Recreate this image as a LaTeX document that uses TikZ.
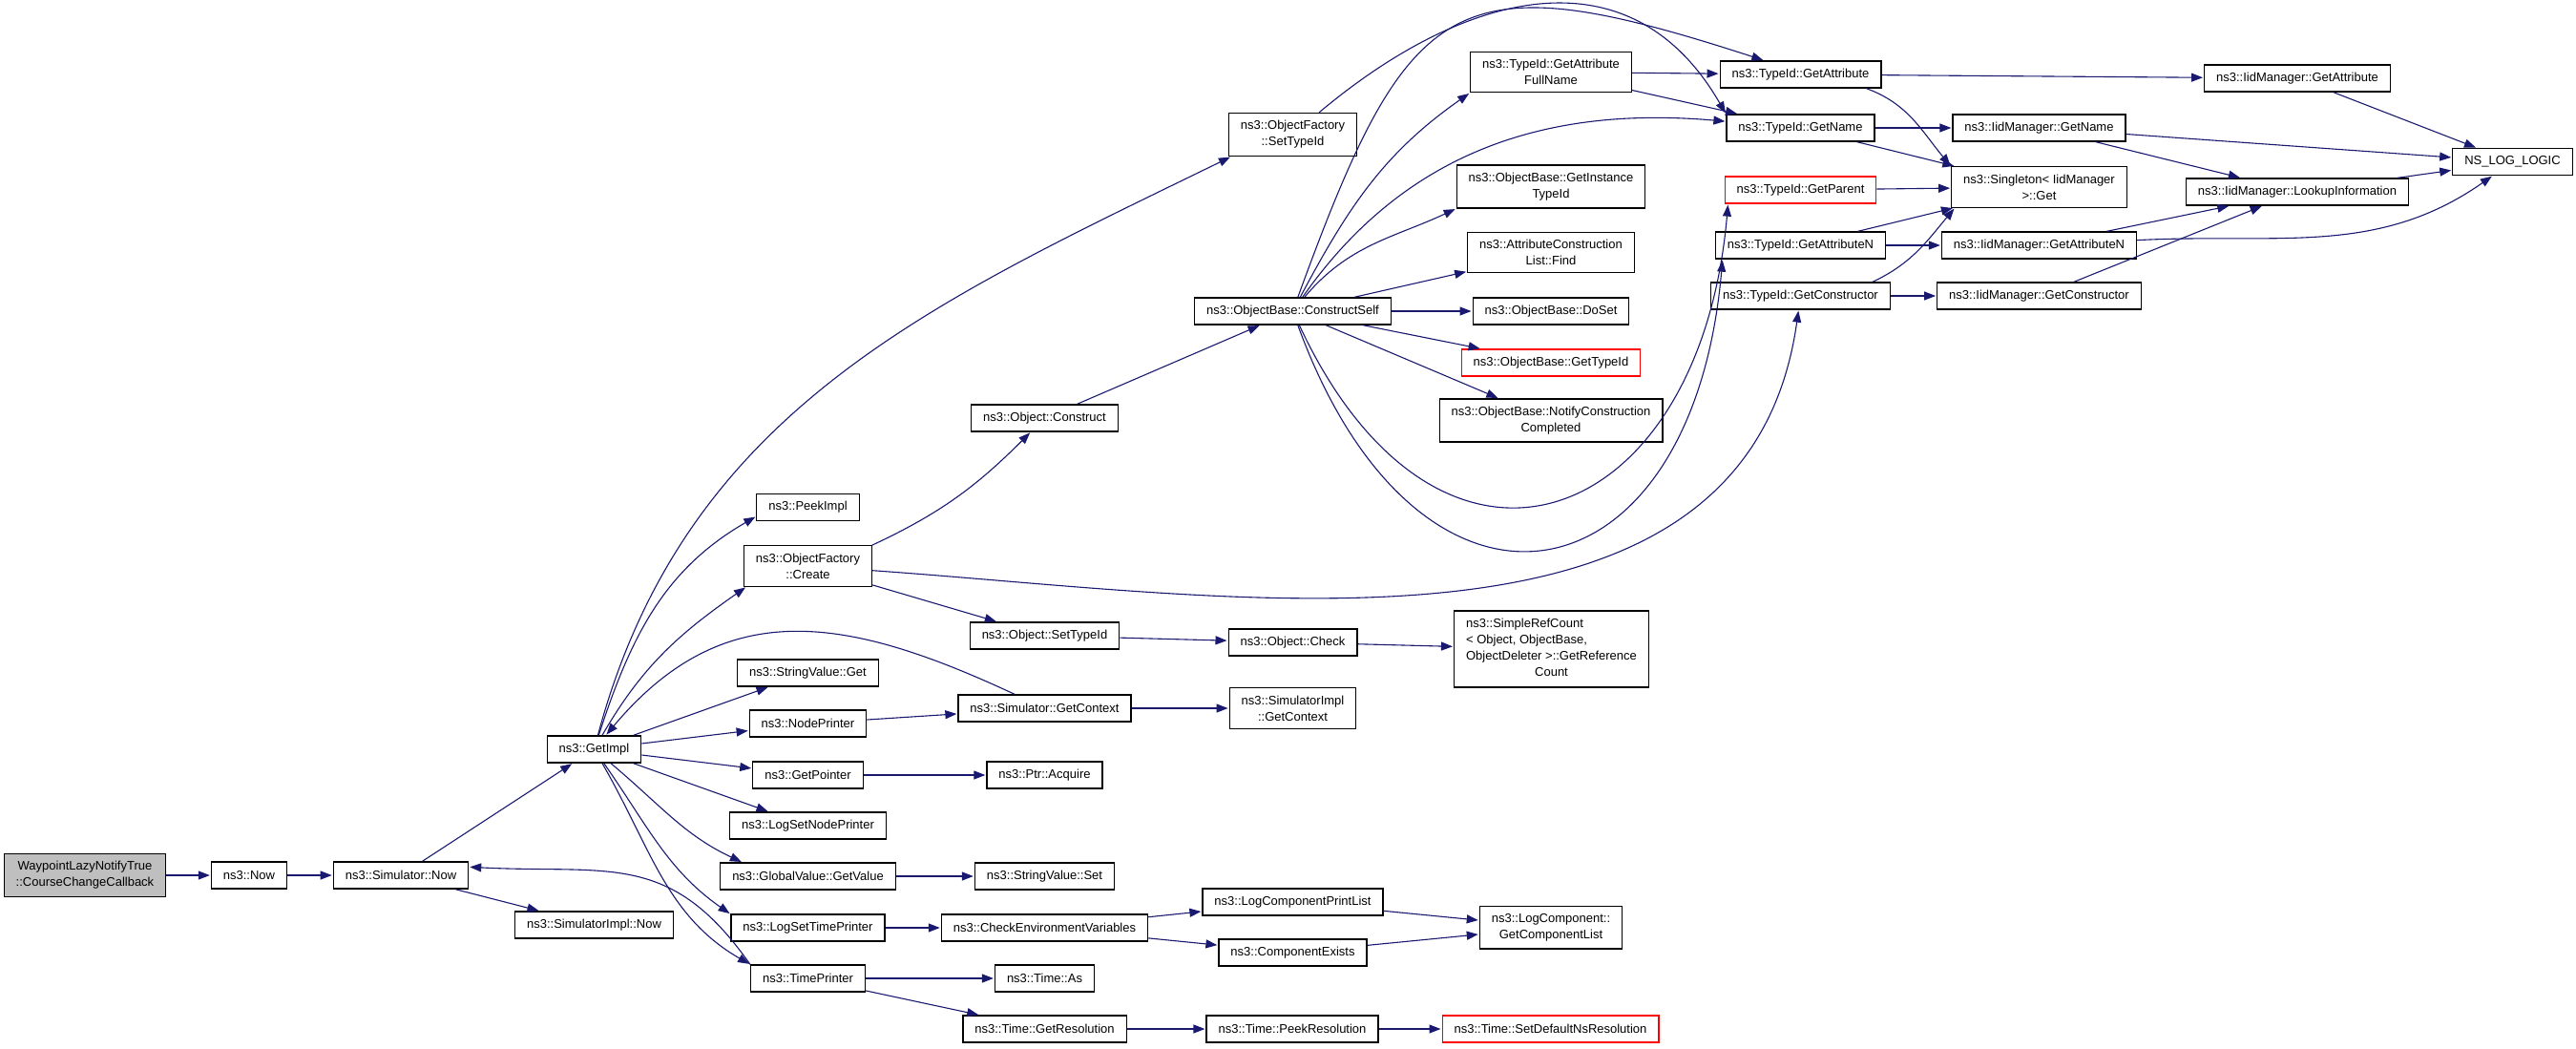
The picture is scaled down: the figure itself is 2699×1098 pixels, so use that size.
\documentclass[tikz,border=0pt]{standalone}
\usepackage{fontspec}
\setmainfont{Liberation Sans}
\usetikzlibrary{positioning,arrows.meta}
\definecolor{callblue}{HTML}{191970}
\newcommand{\fnfont}{\fontsize{13pt}{17pt}\selectfont}
\tikzset{
  fn/.style={draw=black, line width=1.2pt, fill=white, inner xsep=12.5pt, inner ysep=8pt,
    minimum height=28pt, align=center, font=\fnfont},
  fnred/.style={fn, draw=red},
  fnroot/.style={fn, fill=gray!50},
  call/.style={->, color=callblue, line width=1.1pt, shorten >=1pt}
}

\begin{document}
\begin{tikzpicture}[>={Triangle[length=12pt,width=9pt]}, on grid]
\useasboundingbox (0,0) rectangle (2699pt,-1098pt);
% caller and first calls
\node[fnroot] (root) at (89pt,-917pt) {WaypointLazyNotifyTrue\\::CourseChangeCallback};
\node[fn] (now) [right=172pt of root] {ns3::Now};
\node[fn] (simnow) [right=159pt of now] {ns3::Simulator::Now};
\node[fn] (impl) [above right=132pt and 202.5pt of simnow] {ns3::GetImpl};
\node[fn] (simimplnow) [below right=52pt and 202.5pt of simnow] {ns3::SimulatorImpl::Now};
% called by GetImpl
\node[fn] (peek) [above right=253.5pt and 224pt of impl] {ns3::PeekImpl};
\node[fn] (create) [below=61.5pt of peek] {ns3::ObjectFactory\\::Create};
\node[fn] (svget) [below=112pt of create] {ns3::StringValue::Get};
\node[fn] (nodeprn) [below=53pt of svget] {ns3::NodePrinter};
\node[fn] (getptr) [below=54pt of nodeprn] {ns3::GetPointer};
\node[fn] (lognode) [below=53pt of getptr] {ns3::LogSetNodePrinter};
\node[fn] (gvget) [below=53pt of lognode] {ns3::GlobalValue::GetValue};
\node[fn] (logtime) [below=54pt of gvget] {ns3::LogSetTimePrinter};
\node[fn] (timeprn) [below=53pt of logtime] {ns3::TimePrinter};
% next column
\node[fn] (construct) [above right=155pt and 248pt of create] {ns3::Object::Construct};
\node[fn] (objsettid) [below right=73pt and 248pt of create] {ns3::Object::SetTypeId};
\node[fn] (simctx) [above right=16pt and 248pt of nodeprn] {ns3::Simulator::GetContext};
\node[fn] (acquire) [right=248pt of getptr] {ns3::Ptr::Acquire};
\node[fn] (svset) [right=248pt of gvget] {ns3::StringValue::Set};
\node[fn] (checkenv) [right=248pt of logtime] {ns3::CheckEnvironmentVariables};
\node[fn] (timeas) [right=248pt of timeprn] {ns3::Time::As};
\node[fn] (getres) [below=53pt of timeas] {ns3::Time::GetResolution};
% ConstructSelf column
\node[fn] (ofsettid) [above right=297pt and 260pt of construct] {ns3::ObjectFactory\\::SetTypeId};
\node[fn] (cself) [above right=112pt and 260pt of construct] {ns3::ObjectBase::ConstructSelf};
\node[fn] (check) [below right=7pt and 260pt of objsettid] {ns3::Object::Check};
\node[fn] (simimplctx) [right=260pt of simctx] {ns3::SimulatorImpl\\::GetContext};
\node[fn] (printlist) [above right=27pt and 260pt of checkenv] {ns3::LogComponentPrintList};
\node[fn] (exists) [below right=26pt and 260pt of checkenv] {ns3::ComponentExists};
\node[fn] (peekres) [right=259.5pt of getres] {ns3::Time::PeekResolution};
% called by ConstructSelf
\node[fn] (doset) [right=270.5pt of cself] {ns3::ObjectBase::DoSet};
\node[fn] (acfind) [above=61.5pt of doset] {ns3::AttributeConstruction\\List::Find};
\node[fn] (insttid) [above=130.5pt of doset] {ns3::ObjectBase::GetInstance\\TypeId};
\node[fn] (fullname) [above=120pt of insttid] {ns3::TypeId::GetAttribute\\FullName};
\node[fnred] (obtid) [below=54pt of doset] {ns3::ObjectBase::GetTypeId};
\node[fn] (notify) [below=60.5pt of obtid] {ns3::ObjectBase::NotifyConstruction\\Completed};
\node[fn, inner ysep=6pt] (refcount) [below right=7pt and 271pt of check]
  {\begin{tabular}{@{}l@{}}ns3::SimpleRefCount\\< Object, ObjectBase,\\ObjectDeleter >::GetReference\\\multicolumn{1}{@{}c@{}}{Count}\end{tabular}};
\node[fn] (complist) [below right=26.5pt and 270.5pt of printlist] {ns3::LogComponent::\\GetComponentList};
\node[fnred] (setdefault) [right=270.5pt of peekres] {ns3::Time::SetDefaultNsResolution};
% TypeId
\node[fn] (getattr) [below right=2.5pt and 261.5pt of fullname] {ns3::TypeId::GetAttribute};
\node[fn] (getname) [below=56pt of getattr] {ns3::TypeId::GetName};
\node[fnred] (getparent) [below=65pt of getname] {ns3::TypeId::GetParent};
\node[fn] (getattrn) [below=58pt of getparent] {ns3::TypeId::GetAttributeN};
\node[fn] (getctor) [below=53pt of getattrn] {ns3::TypeId::GetConstructor};
% IidManager
\node[fn] (iidname) [right=250pt of getname] {ns3::IidManager::GetName};
\node[fn] (singleton) [below=62pt of iidname] {ns3::Singleton< IidManager\\>::Get};
\node[fn] (iidattrn) [right=250pt of getattrn] {ns3::IidManager::GetAttributeN};
\node[fn] (iidctor) [right=250pt of getctor] {ns3::IidManager::GetConstructor};
\node[fn] (iidattr) [above right=52pt and 270.5pt of iidname] {ns3::IidManager::GetAttribute};
\node[fn] (lookup) [below right=5pt and 270.5pt of singleton] {ns3::IidManager::LookupInformation};
\node[fn] (nslog) [below right=87.5pt and 225.5pt of iidattr] {NS\_LOG\_LOGIC};

\path[call]
(root) edge (now)
(now) edge (simnow)
(simnow) edge (impl)
	edge (simimplnow)
(impl) edge [out=75, in=206] ([xshift=3pt]ofsettid.south west)
	edge [out=72, in=210] (peek.190)
	edge [out=60, in=215] ([xshift=3pt]create.south west)
	edge (svget)
	edge (nodeprn)
	edge (getptr)
	edge (lognode)
	edge [out=-40, in=155] (gvget.168)
	edge [out=-55, in=145] (logtime.170)
	edge [out=-60, in=150] (timeprn.north west)
(simctx) edge [out=155, in=50, looseness=1.15] (impl)
(timeprn.north west) edge [out=125, in=-3, looseness=1.2] (simnow.7)
(create.18) edge [out=25, in=225] (construct)
(create) edge [out=-4, in=-98] (getctor)
	edge (objsettid)
(construct) edge (cself)
(cself) edge [out=62, in=215] (fullname.south west)
	edge [out=70, in=162, looseness=1.6] (getattr.159)
	edge [out=55, in=175] (getname)
	edge [out=50, in=205] (insttid.south west)
	edge (acfind)
	edge (doset)
	edge (obtid)
	edge (notify)
	edge [out=-65, in=-95, looseness=1.9] ([xshift=4pt]getparent.south west)
	edge [out=-70, in=-95, looseness=2.1] ([xshift=8pt]getattrn.south west)
(ofsettid) edge [out=40, in=120, looseness=1.2] (getname.north west)
(fullname) edge (getattr)
	edge (getname)
(getattr) edge (iidattr)
(getattr.-12) edge [out=-20, in=130] (singleton.north west)
(getname) edge (iidname)
	edge (singleton)
(getparent) edge (singleton)
(getattrn) edge (singleton)
	edge (iidattrn)
(getctor.11.5) edge [out=25, in=230] ([xshift=4pt]singleton.south west)
(getctor) edge (iidctor)
(iidattr) edge (nslog)
(iidname) edge (nslog)
	edge (lookup)
(iidattrn) edge (lookup)
	edge [out=3, in=215] (nslog)
(iidctor) edge (lookup)
(lookup) edge (nslog)
(objsettid) edge (check)
(check) edge (refcount)
(simctx) edge (simimplctx)
(nodeprn) edge (simctx)
(getptr) edge (acquire)
(gvget) edge (svset)
(logtime) edge (checkenv)
(checkenv) edge (printlist)
	edge (exists)
(printlist) edge (complist)
(exists) edge (complist)
(timeprn) edge (timeas)
	edge (getres)
(getres) edge (peekres)
(peekres) edge (setdefault);
\end{tikzpicture}
\end{document}
